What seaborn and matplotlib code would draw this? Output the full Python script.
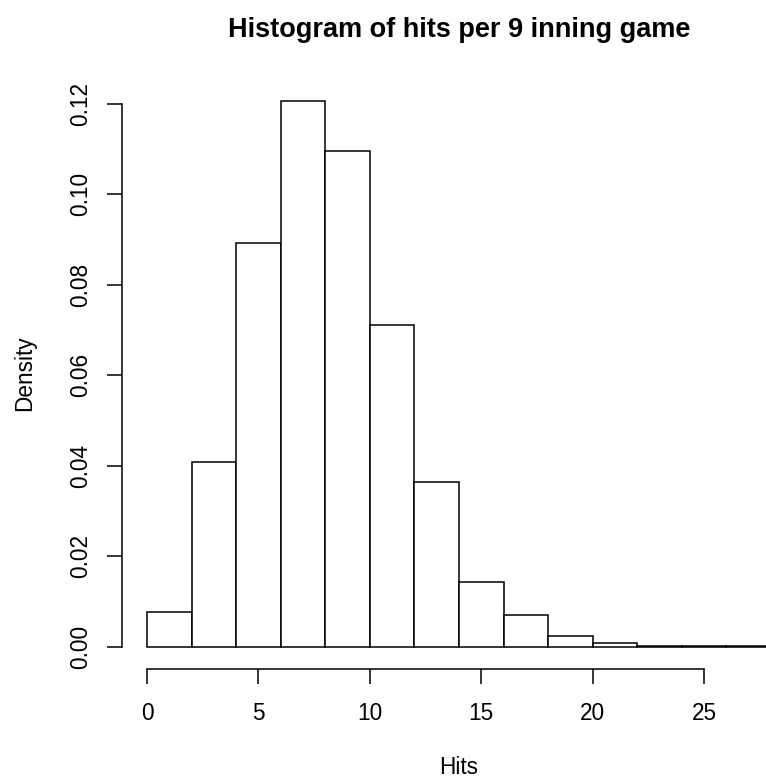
import numpy as np
import pandas as pd
import matplotlib
matplotlib.use("Agg")
import matplotlib.pyplot as plt
import seaborn as sns

# Histogram bins (width 2) and densities
bin_edges = [0, 2, 4, 6, 8, 10, 12, 14, 16, 18, 20, 22, 24, 26, 28]
densities = [0.0077, 0.0408, 0.0892, 0.1207, 0.1095, 0.0711, 0.0364,
             0.0143, 0.0070, 0.0023, 0.0009, 0.0002, 0.0001, 0.00005]
x_ticks = [0, 5, 10, 15, 20, 25]
y_ticks = [0.00, 0.02, 0.04, 0.06, 0.08, 0.10, 0.12]
y_tick_labels = ["0.00", "0.02", "0.04", "0.06", "0.08", "0.10", "0.12"]

sns.set_theme(style="ticks")
plt.rcParams["font.family"] = ["Liberation Sans", "DejaVu Sans"]

df = pd.DataFrame({
    "Hits": [(a + b) / 2 for a, b in zip(bin_edges[:-1], bin_edges[1:])],
    "Density": densities,
})

fig = plt.figure(figsize=(7.66, 7.79), dpi=100)
ax = fig.add_axes([122 / 766, (779 - 668.5) / 779, 674 / 766, 589.8 / 779])

sns.histplot(data=df, x="Hits", weights="Density", bins=bin_edges, stat="count",
             color="white", edgecolor="black", linewidth=1.1, alpha=1, ax=ax)

xmin, xmax = bin_edges[0], bin_edges[-1]
xpad = 0.04 * (xmax - xmin)
ymax = max(densities)
ypad = 0.04 * ymax
ax.set_xlim(xmin - xpad, xmax + xpad)
ax.set_ylim(-ypad, ymax + ypad)

ax.set_xticks(x_ticks)
ax.set_xticklabels([str(t) for t in x_ticks])
ax.set_yticks(y_ticks)
ax.set_yticklabels(y_tick_labels)

sns.despine(ax=ax)
ax.spines["left"].set_bounds(y_ticks[0], y_ticks[-1])
ax.spines["bottom"].set_bounds(x_ticks[0], x_ticks[-1])
for s in ("left", "bottom"):
    ax.spines[s].set_linewidth(1.1)
    ax.spines[s].set_color("black")

fs = 16.3
ax.tick_params(axis="both", direction="out", length=10.8, width=1.1,
               colors="black", labelsize=fs, labelcolor="black")
ax.tick_params(axis="x", pad=13)
ax.tick_params(axis="y", pad=11, labelrotation=90)
for lab in ax.get_yticklabels():
    lab.set_va("center")

ax.set_xlabel("Hits", fontsize=fs, color="black")
ax.set_ylabel("Density", fontsize=fs, color="black")
ax.xaxis.set_label_coords(0.5, -0.1687)
ax.xaxis.label.set_va("center")
ax.yaxis.set_label_coords(-0.1439, 0.5)
ax.yaxis.label.set_va("center")
ax.grid(False)

fig.text(459 / 766, 1 - 30 / 779, "Histogram of hits per 9 inning game",
         ha="center", va="center", fontsize=fs * 1.2, fontweight="bold", color="black")

fig.savefig("out.png", dpi=100, facecolor="white")
